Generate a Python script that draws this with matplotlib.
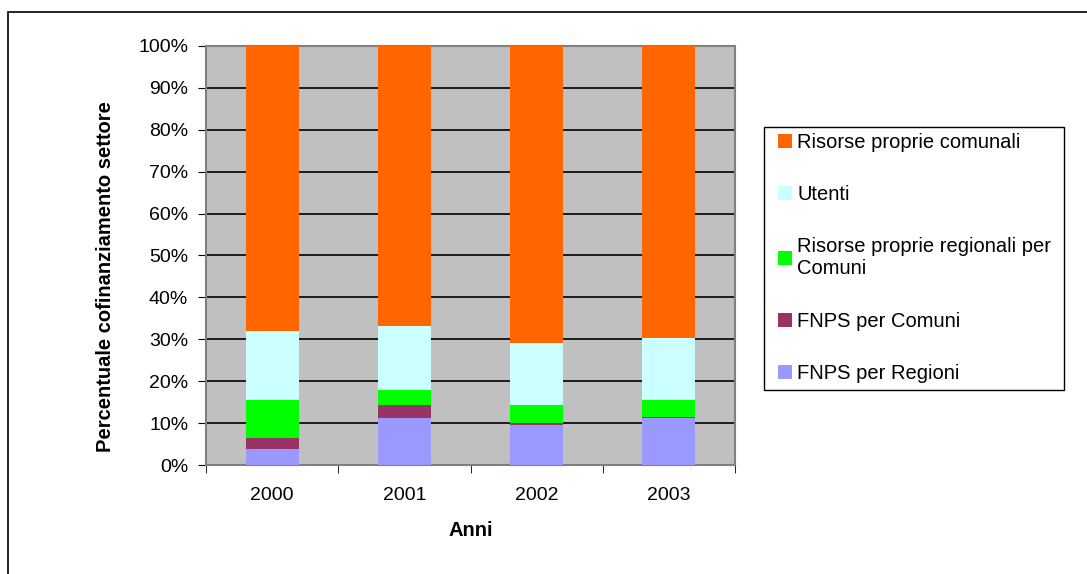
import numpy as np
import matplotlib.pyplot as plt
from matplotlib.patches import Rectangle, Patch

plt.rcParams['font.family'] = ['Liberation Sans', 'DejaVu Sans']

anni = ['2000', '2001', '2002', '2003']
fnps_regioni = [3.8, 11.2, 9.6, 11.3]
fnps_comuni = [2.6, 3.1, 0.4, 0.2]
regionali_comuni = [9.1, 3.6, 4.3, 4.0]
utenti = [16.5, 15.3, 14.9, 14.8]
comunali = [68.0, 66.8, 70.8, 69.7]

series = [
  ('FNPS per Regioni', fnps_regioni, '#9999FF'),
  ('FNPS per Comuni', fnps_comuni, '#993366'),
  ('Risorse proprie regionali per\nComuni', regionali_comuni, '#00FF00'),
  ('Utenti', utenti, '#CCFFFF'),
  ('Risorse proprie comunali', comunali, '#FF6600'),
]

W, H = 1087, 574
fig = plt.figure(figsize=(W/100, H/100), dpi=100)
ax = fig.add_axes([206/W, 1-465/H, (735-206)/W, (465-46)/H])
ax.set_facecolor('#C0C0C0')

x = np.arange(len(anni))
bottom = np.zeros(len(anni))
for lbl, vals, col in series:
  ax.bar(x, vals, width=0.4, bottom=bottom, color=col, edgecolor='none', zorder=3, label=lbl)
  bottom += np.array(vals)

ax.set_ylim(0, 100)
ax.set_xlim(-0.5, len(anni)-0.5)
ax.set_yticks(np.arange(0, 101, 10))
ax.set_yticklabels(['%d%%' % v for v in range(0, 101, 10)], fontsize=14)
ax.yaxis.grid(True, color='black', lw=1.2, zorder=1)
ax.set_axisbelow(True)

ax.set_xticks(x)
ax.set_xticklabels(anni, fontsize=14)
ax.set_xticks(np.arange(-0.5, len(anni)), minor=True)
ax.tick_params(axis='x', which='major', length=0, pad=16)
ax.tick_params(axis='x', which='minor', length=6, color='black', direction='out')
ax.tick_params(axis='y', length=5.8, direction='out', pad=7)

for s in ax.spines.values():
  s.set_color('#808080')
  s.set_linewidth(1.5)

ax.set_ylabel('Percentuale cofinanziamento settore', fontsize=14.5, fontweight='bold')
ax.yaxis.set_label_coords((115-206)/529, (465-277)/419)
ax.set_xlabel('Anni', fontsize=14.5, fontweight='bold', labelpad=12)

# legend box drawn separately, entries placed inside
fig.add_artist(Rectangle((764/W, 1-390/H), 300/W, 263/H, fill=False, edgecolor='black',
                         lw=1, transform=fig.transFigure))
handles = [Patch(facecolor=c, edgecolor='none', label=l) for l, v, c in series][::-1]
leg = fig.legend(handles=handles, loc='upper left', bbox_to_anchor=(778/W, 1-133/H),
                 fontsize=14.5, frameon=False,
                 handlelength=0.7, handleheight=0.7, handletextpad=0.25,
                 labelspacing=1.65, borderpad=0, borderaxespad=0)

fig.add_artist(Rectangle((8/W, -0.1), 1.2, 1-12/H+0.1, fill=False, edgecolor='black',
                         lw=1.2, transform=fig.transFigure))

plt.savefig('out.png', dpi=100)
